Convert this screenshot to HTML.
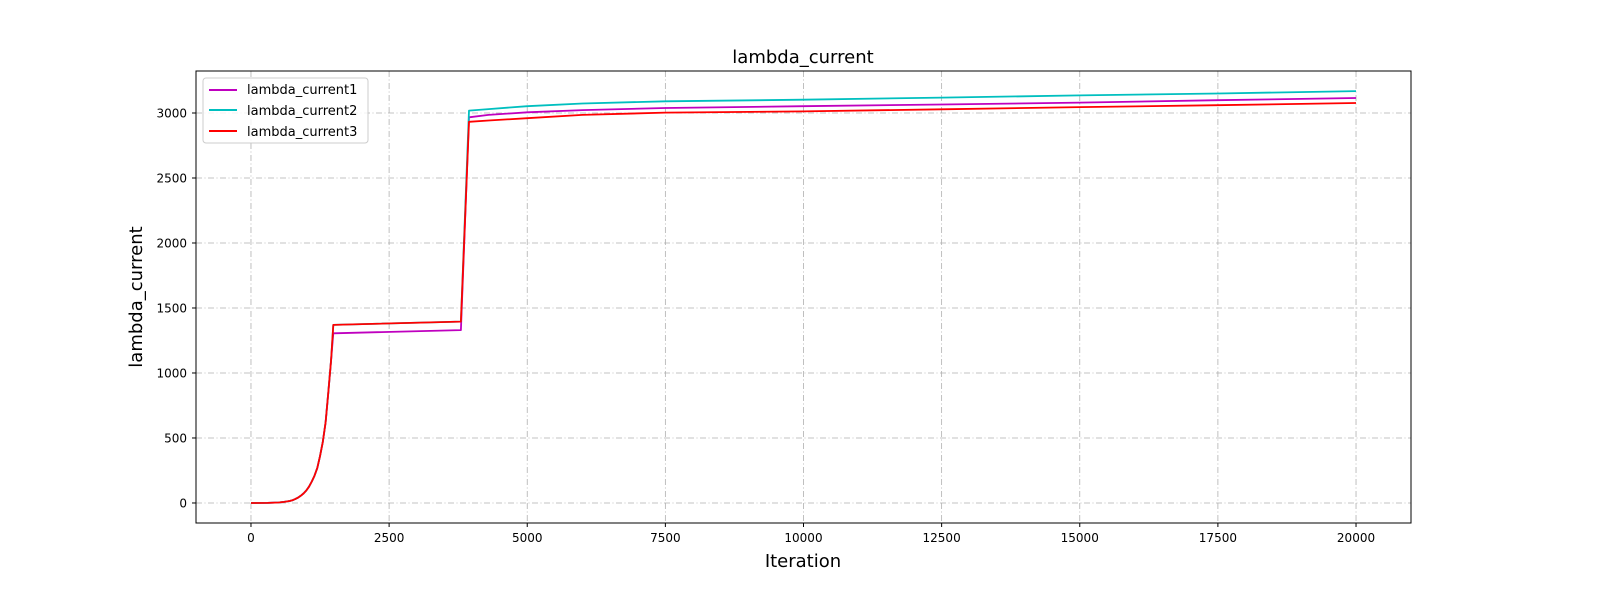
<!DOCTYPE html>
<html><head><meta charset="utf-8"><style>
html,body{margin:0;padding:0;background:#fff;width:1600px;height:600px;overflow:hidden;}
svg{display:block;font-family:"DejaVu Sans","Liberation Sans",sans-serif;}
</style></head><body>
<svg id="chart" width="1600" height="600" viewBox="0 0 1600 600" xmlns="http://www.w3.org/2000/svg">
<rect width="1600" height="600" fill="#fff"/>
<g id="grid"></g>
<g id="series"></g>
<rect x="196" y="71" width="1215" height="452" fill="none" stroke="#000" stroke-width="1"/>
<g id="ticks"></g>
<text x="803" y="63" text-anchor="middle" font-size="18">lambda_current</text>
<text x="803" y="567" text-anchor="middle" font-size="18">Iteration</text>
<text x="142" y="297" text-anchor="middle" font-size="18" transform="rotate(-90 142 297)">lambda_current</text>
<g>
<rect x="203" y="78" width="165" height="65" rx="3" fill="#fff" fill-opacity="0.8" stroke="#ccc"/>
<line x1="209" y1="90" x2="237" y2="90" stroke="#bf00bf" stroke-width="2"/>
<text x="247" y="94" font-size="13">lambda_current1</text>
<line x1="209" y1="110" x2="237" y2="110" stroke="#00bfbf" stroke-width="2"/>
<text x="247" y="115" font-size="13">lambda_current2</text>
<line x1="209" y1="131" x2="237" y2="131" stroke="#ff0000" stroke-width="2"/>
<text x="247" y="136" font-size="13">lambda_current3</text>
</g>
</svg>
<script>
const xTicks = [0,2500,5000,7500,10000,12500,15000,17500,20000];
const yTicks = [0,500,1000,1500,2000,2500,3000];
const iters1 = [0,300,500,600,700,750,800,850,900,950,1000,1050,1100,1150,1200,1250,1300,1350,1400,1450,1490,3785,3800,3946,4300,5000,6000,7500,10000,12500,15000,17500,20000];
const vals1  = [0,1,4,8,15,21,30,41,55,73,95,125,165,210,270,360,470,620,850,1100,1305,1330,1330,2967,2985,3005,3022,3038,3052,3065,3080,3098,3115];
const iters2 = [0,300,500,600,700,750,800,850,900,950,1000,1050,1100,1150,1200,1250,1300,1350,1400,1450,1490,3785,3800,3946,4300,5000,6000,7500,10000,12500,15000,17500,20000];
const vals2  = [0,1,4,8,15,21,30,41,55,73,95,125,165,210,270,360,470,620,850,1100,1370,1395,1395,3018,3030,3052,3073,3090,3102,3118,3135,3150,3168];
const iters3 = [0,300,500,600,700,750,800,850,900,950,1000,1050,1100,1150,1200,1250,1300,1350,1400,1450,1490,3785,3800,3946,4300,5000,6000,7500,10000,12500,15000,17500,20000];
const vals3  = [0,1,4,8,15,21,30,41,55,73,95,125,165,210,270,360,470,620,850,1100,1370,1395,1395,2932,2942,2960,2985,3003,3012,3028,3045,3060,3077];

const NS="http://www.w3.org/2000/svg";
const L=196,R=1411,T=71,B=523, X0=-995, X1=20995, Y0=-154, Y1=3323;
const sx=v=>L+(v-X0)/(X1-X0)*(R-L);
const sy=v=>B-(v-Y0)/(Y1-Y0)*(B-T);
const grid=document.getElementById('grid'), ticks=document.getElementById('ticks'), ser=document.getElementById('series');
function mk(tag,attrs,parent){const e=document.createElementNS(NS,tag);for(const k in attrs)e.setAttribute(k,attrs[k]);parent.appendChild(e);return e;}
xTicks.forEach(t=>{
  const x=sx(t);
  const g=mk('line',{x1:x,x2:x,y1:T,y2:B,stroke:'#b0b0b0','stroke-width':0.8,'stroke-dasharray':'6 2.5 1 2.5'},grid);
  
  
  const tk=mk('line',{x1:x,x2:x,y1:B,y2:B+4,stroke:'#000'},ticks);
  
  
  const tx=mk('text',{x:x,y:B+19,'text-anchor':'middle','font-size':12},ticks);
  tx.textContent=t;
  
  
});
yTicks.forEach(t=>{
  const y=sy(t);
  const g=mk('line',{x1:L,x2:R,y1:y,y2:y,stroke:'#b0b0b0','stroke-width':0.8,'stroke-dasharray':'6 2.5 1 2.5'},grid);
  
  
  const tk=mk('line',{x1:L-4,x2:L,y1:y,y2:y,stroke:'#000'},ticks);
  
  
  const tx=mk('text',{x:L-9,y:y+4.5,'text-anchor':'end','font-size':12},ticks);
  tx.textContent=t;
  
  
});
function drawLine(xs,ys,color,name){
  const d=xs.map((v,i)=>(i?'L':'M')+sx(v).toFixed(1)+' '+sy(ys[i]).toFixed(1)).join(' ');
  const p=mk('path',{d:d,fill:'none',stroke:color,'stroke-width':1.8,'stroke-linejoin':'round'},ser);
  
  
}
drawLine(iters1,vals1,'#bf00bf','series-lambda-current1');
drawLine(iters2,vals2,'#00bfbf','series-lambda-current2');
drawLine(iters3,vals3,'#ff0000','series-lambda-current3');
</script>
</body></html>
